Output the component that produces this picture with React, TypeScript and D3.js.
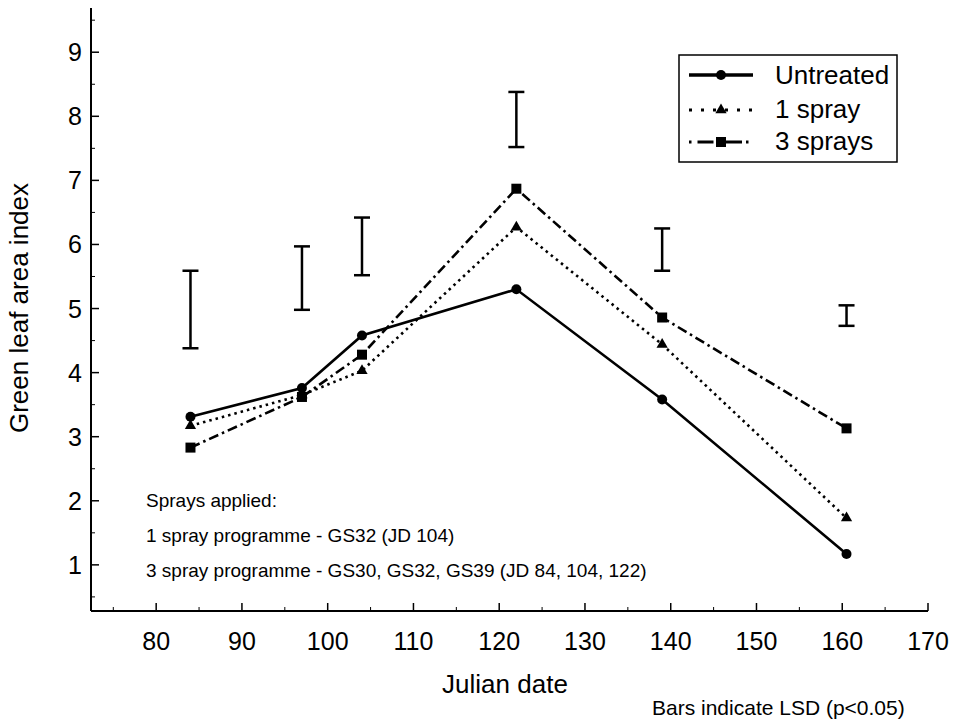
import React from "react";
import * as d3 from "d3";

const dates = [84, 97, 104, 122, 139, 160.5];
const untreated = [3.31, 3.76, 4.58, 5.3, 3.58, 1.17];
const oneSpray = [3.17, 3.65, 4.03, 6.27, 4.44, 1.73];
const threeSprays = [2.83, 3.62, 4.28, 6.87, 4.86, 3.13];
const lsdLow = [4.38, 4.98, 5.52, 7.52, 5.59, 4.73];
const lsdHigh = [5.59, 5.97, 6.42, 8.38, 6.25, 5.05];

const xTicks = [80, 90, 100, 110, 120, 130, 140, 150, 160, 170];
const xMinor = [75, 85, 95, 105, 115, 125, 135, 145, 155, 165];
const yTicks = [1, 2, 3, 4, 5, 6, 7, 8, 9];
const yMinor = [0.5, 1.5, 2.5, 3.5, 4.5, 5.5, 6.5, 7.5, 8.5, 9.5];

const seriesNames = ["Untreated", "1 spray", "3 sprays"];
const notes = [
  "Sprays applied:",
  "1 spray programme - GS32 (JD 104)",
  "3 spray programme - GS30, GS32, GS39 (JD 84, 104, 122)",
];

const font = "'Liberation Sans', Arial, Helvetica, sans-serif";

const width = 955;
const height = 723;

const x = d3.scaleLinear().domain([72.4, 170]).range([91, 928]);
const y = d3.scaleLinear().domain([0.28, 9.69]).range([611, 8]);

const styles = [
  { dash: "none", legendDash: "none", marker: "circle" },
  { dash: "2.5 4", legendDash: "3 9", marker: "triangle" },
  { dash: "10 4 2.5 4", legendDash: "2.5 6 16 4", marker: "square" },
];

function Marker({ kind, cx, cy }: { kind: string; cx: number; cy: number }) {
  if (kind === "circle") return <circle cx={cx} cy={cy} r={5} fill="#000" />;
  if (kind === "triangle") {
    const p = d3.symbol(d3.symbolTriangle, 55)() as string;
    return <path d={p} transform={`translate(${cx},${cy})`} fill="#000" />;
  }
  return <rect x={cx - 5} y={cy - 5} width={10} height={10} fill="#000" />;
}

export default function App() {
  const series = [untreated, oneSpray, threeSprays];
  const line = d3
    .line<number>()
    .x((d, i) => x(dates[i]))
    .y((d) => y(d));

  return (
    <div style={{ position: "absolute", left: 0, top: 0 }}>
      <svg width={width} height={height} style={{ display: "block", background: "#fff" }} fontFamily={font}>
        {/* axes */}
        <line x1={x.range()[0]} x2={x.range()[1]} y1={y.range()[0]} y2={y.range()[0]} stroke="#000" strokeWidth={2} />
        <line x1={x.range()[0]} x2={x.range()[0]} y1={y.range()[0]} y2={y.range()[1]} stroke="#000" strokeWidth={2} />
        {xTicks.map((t) => (
          <g key={"xt" + t}>
            <line x1={x(t)} x2={x(t)} y1={611} y2={603} stroke="#000" strokeWidth={1.5} />
            <text x={x(t)} y={650} fontSize={25} textAnchor="middle">{t}</text>
          </g>
        ))}
        {xMinor.map((t) => (
          <line key={"xm" + t} x1={x(t)} x2={x(t)} y1={611} y2={607} stroke="#000" strokeWidth={1} />
        ))}
        {yTicks.map((t) => (
          <g key={"yt" + t}>
            <line x1={91} x2={99} y1={y(t)} y2={y(t)} stroke="#000" strokeWidth={1.5} />
            <text x={82} y={y(t) + 9} fontSize={25} textAnchor="end">{t}</text>
          </g>
        ))}
        {yMinor.map((t) => (
          <line key={"ym" + t} x1={91} x2={95} y1={y(t)} y2={y(t)} stroke="#000" strokeWidth={1} />
        ))}
        <text x={505} y={693} fontSize={26} textAnchor="middle">Julian date</text>
        <text transform={`translate(28,308) rotate(-90)`} fontSize={26} textAnchor="middle">Green leaf area index</text>
        <text x={652} y={715} fontSize={21}>Bars indicate LSD (p&lt;0.05)</text>

        {/* LSD bars */}
        {dates.map((d, i) => (
          <g key={"lsd" + i} stroke="#000" strokeWidth={2.5}>
            <line x1={x(d)} x2={x(d)} y1={y(lsdLow[i])} y2={y(lsdHigh[i])} />
            <line x1={x(d) - 8} x2={x(d) + 8} y1={y(lsdLow[i])} y2={y(lsdLow[i])} />
            <line x1={x(d) - 8} x2={x(d) + 8} y1={y(lsdHigh[i])} y2={y(lsdHigh[i])} />
          </g>
        ))}

        {/* series */}
        {series.map((s, k) => (
          <g key={"s" + k}>
            <path d={line(s) as string} fill="none" stroke="#000" strokeWidth={2.6} strokeDasharray={styles[k].dash} />
            {s.map((v, i) => (
              <Marker key={i} kind={styles[k].marker} cx={x(dates[i])} cy={y(v)} />
            ))}
          </g>
        ))}

        {/* notes */}
        {notes.map((n, i) => (
          <text key={"n" + i} x={146} y={507 + i * 35} fontSize={19}>{n}</text>
        ))}

        {/* legend */}
        <rect x={679} y={55} width={218} height={107} fill="#fff" stroke="#000" strokeWidth={1.5} />
        {seriesNames.map((name, k) => {
          const ly = [75, 110, 142][k];
          const lb = [84, 118, 150][k];
          return (
            <g key={"lg" + k}>
              <line x1={689} x2={753} y1={ly} y2={ly} stroke="#000" strokeWidth={k === 0 ? 3.5 : 3} strokeDasharray={styles[k].legendDash} />
              <Marker kind={styles[k].marker} cx={721} cy={ly} />
              <text x={775} y={lb} fontSize={26}>{name}</text>
            </g>
          );
        })}
      </svg>
    </div>
  );
}
